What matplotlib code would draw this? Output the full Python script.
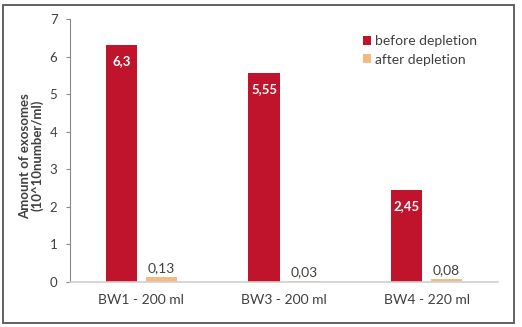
import numpy as np
import matplotlib.pyplot as plt
from matplotlib.patches import Rectangle

# Exosome counts before/after depletion (10^10 number/ml)
samples = ['BW1 - 200 ml', 'BW3 - 200 ml', 'BW4 - 220 ml']
before = [6.3, 5.55, 2.45]
after = [0.13, 0.03, 0.08]

RED = '#C0142C'
ORANGE = '#F5B984'
TXT = '#404040'

plt.rcParams['font.family'] = ['Lato', 'DejaVu Sans']

fig = plt.figure(figsize=(5.22, 3.27), dpi=100)
ax = fig.add_axes([70 / 522, 1 - 282 / 327, 428 / 522, 263 / 327])

x = np.arange(len(samples))
w = 0.22
off = 0.14
b1 = ax.bar(x - off, before, w, color=RED, label='before depletion')
b2 = ax.bar(x + off, after, w, color=ORANGE, label='after depletion')

def fmt(v):
    return f'{v:g}'.replace('.', ',')

for rect, v in zip(b1, before):
    ax.text(rect.get_x() + rect.get_width() / 2, v - 0.42, fmt(v),
            ha='center', va='center', color='white', fontsize=9.5, fontweight='bold')
for rect, v in zip(b2, after):
    ax.text(rect.get_x() + rect.get_width() / 2, v + 0.07, fmt(v),
            ha='center', va='bottom', color=TXT, fontsize=10)

ax.set_xlim(-0.5, 2.5)
ax.set_ylim(0, 7)
ax.set_yticks(range(8))
ax.set_xticks(x)
ax.set_xticklabels(samples)
ax.tick_params(axis='y', length=3, color='#888888', labelcolor=TXT, labelsize=9.5, pad=6)
ax.tick_params(axis='x', length=0, labelcolor=TXT, labelsize=10, pad=9)

for s in ['top', 'right']:
    ax.spines[s].set_visible(False)
ax.spines['left'].set_color('#888888')
ax.spines['bottom'].set_color('#D0D0D0')
ax.spines['bottom'].set_linewidth(1.2)

ax.set_ylabel('Amount of exosomes\n(10^10number/ml)', fontsize=9.5,
              fontweight='bold', color=TXT, linespacing=1.05)
ax.yaxis.set_label_coords(-26 / 428, 0.48)

ax.legend(loc='upper left', bbox_to_anchor=(280 / 428, 0.985), frameon=False,
          fontsize=10, handlelength=0.6, handleheight=0.6, handletextpad=0.3,
          labelspacing=0.45, labelcolor=TXT)

# outer frame around the chart
fig.patches.append(Rectangle((3 / 522, 4 / 327), 511 / 522, 318 / 327,
                             transform=fig.transFigure, fill=False,
                             edgecolor='#555555', linewidth=1.3))

fig.savefig('out.png', dpi=100)
